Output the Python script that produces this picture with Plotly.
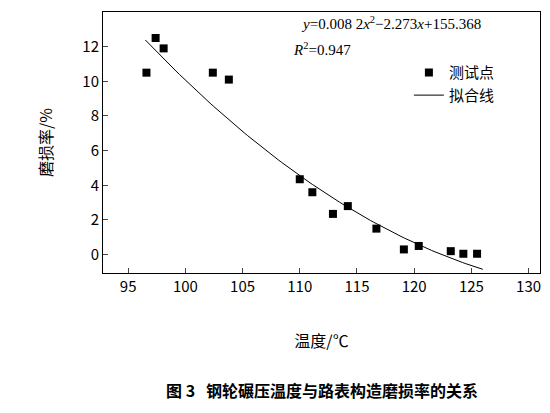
import numpy as np
import plotly.graph_objects as go

temp = [96.6, 97.4, 98.1, 102.4, 103.8, 110.0, 111.1, 112.9, 114.2, 116.7, 119.1, 120.4, 123.2, 124.3, 125.5]
wear = [10.5, 12.5, 11.9, 10.5, 10.1, 4.35, 3.6, 2.35, 2.8, 1.5, 0.3, 0.5, 0.2, 0.05, 0.05]
coef = [0.0082, -2.273, 155.368]

xf = np.linspace(96.5, 126, 100)
yf = np.polyval(coef, xf)

fig = go.Figure()
fig.add_trace(go.Scatter(x=temp, y=wear, mode="markers", name="测试点",
                         marker=dict(symbol="square", size=8, color="black")))
fig.add_trace(go.Scatter(x=xf, y=yf, mode="lines", name="拟合线",
                         line=dict(color="black", width=1)))

fig.add_annotation(x=0.66, y=1.0, xref="paper", yref="paper", showarrow=False,
                   text="<i>y</i>=0.008 2<i>x</i><sup>2</sup>−2.273<i>x</i>+155.368",
                   font=dict(size=15, family="Liberation Serif", color="black"))
fig.add_annotation(x=0.5, y=0.9, xref="paper", yref="paper", showarrow=False,
                   text="<i>R</i><sup>2</sup>=0.947",
                   font=dict(size=15, family="Liberation Serif", color="black"))
fig.add_annotation(x=0.5, y=-0.5, xref="paper", yref="paper", showarrow=False,
                   text="<b>图 3   钢轮碾压温度与路表构造磨损率的关系</b>",
                   font=dict(size=16, family="Noto Sans CJK SC", color="black"))

axis = dict(showline=True, mirror=True, linecolor="black", ticks="inside",
            showgrid=False, zeroline=False, tickfont=dict(size=15, color="black"))
fig.update_xaxes(range=[92.8, 131], tickvals=[95, 100, 105, 110, 115, 120, 125, 130],
                 title=dict(text="温度/℃", font=dict(size=16, color="black"), standoff=40), **axis)
fig.update_yaxes(range=[-1.06, 14], tickvals=list(range(0, 15, 2)),
                 title=dict(text="磨损率/%", font=dict(size=16, color="black"), standoff=25), **axis)

fig.update_layout(width=550, height=413, plot_bgcolor="white", paper_bgcolor="white",
                  font=dict(family="Noto Sans CJK SC, Liberation Serif", color="black"),
                  margin=dict(l=95, r=18, t=4, b=148),
                  legend=dict(x=0.7, y=0.83, bgcolor="rgba(0,0,0,0)", font=dict(size=15)))
fig.write_html("out.html")
